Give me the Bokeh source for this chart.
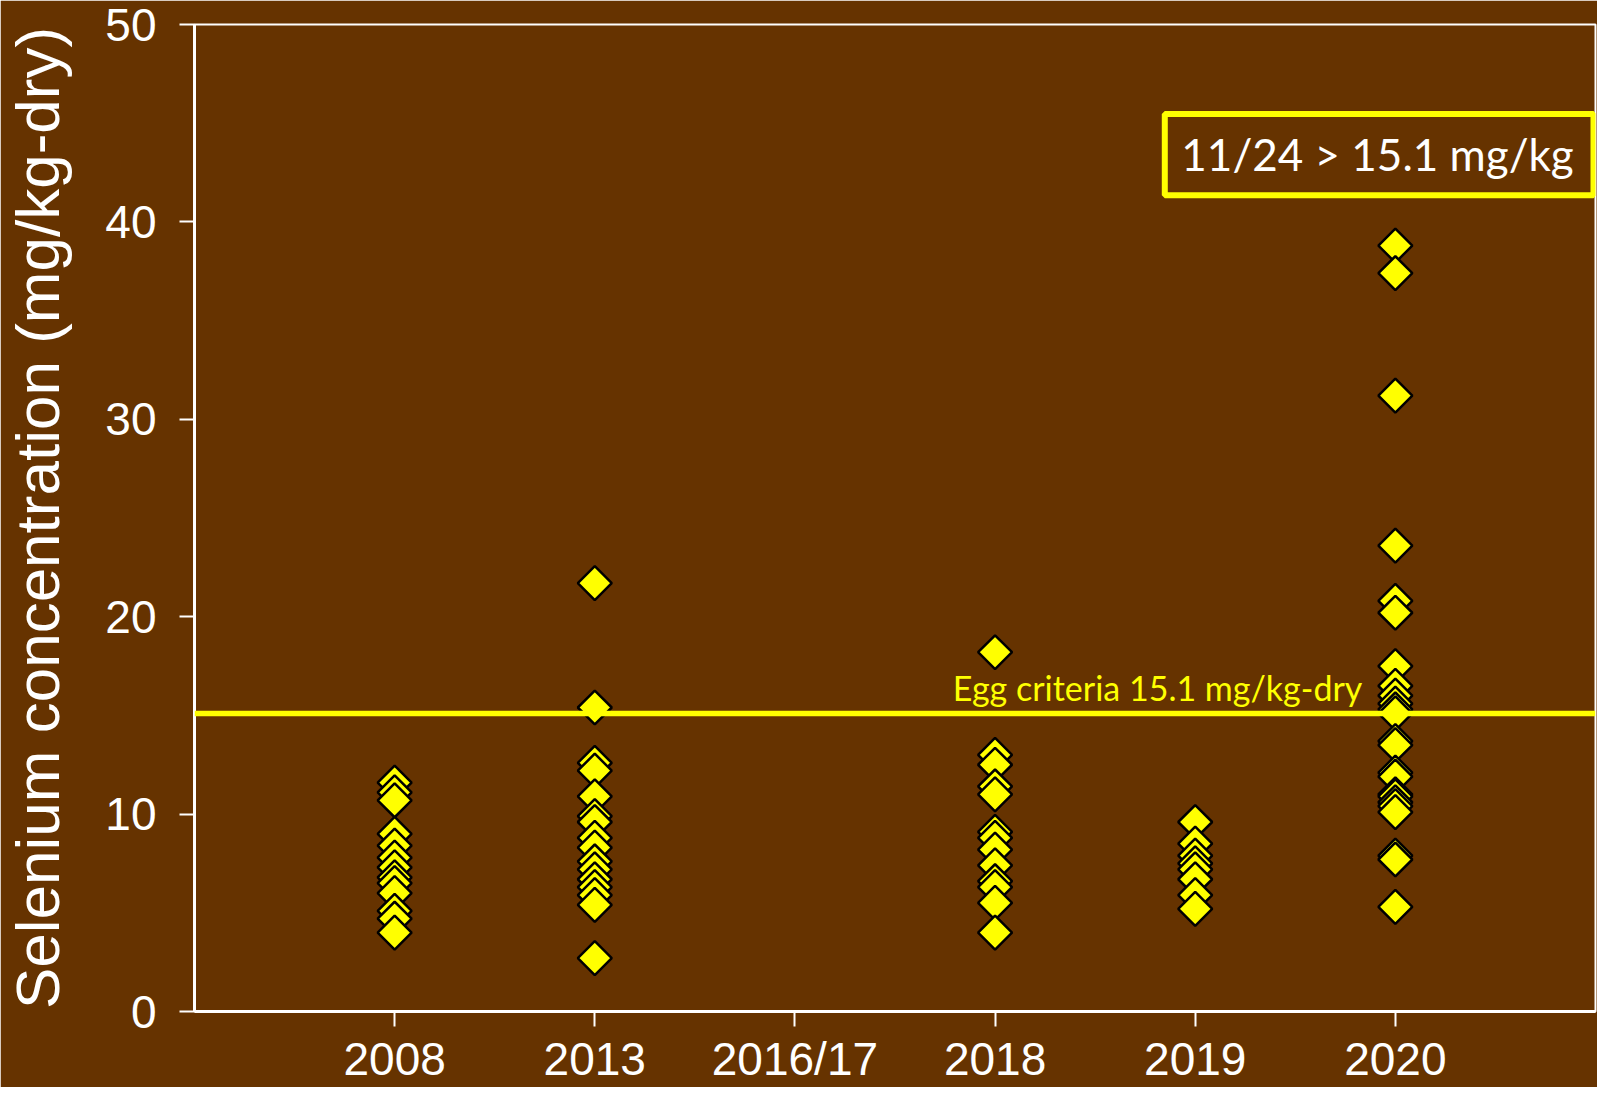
import math
from bokeh.plotting import figure
from bokeh.models import Span, Label, BoxAnnotation, FixedTicker, ColumnDataSource, Range1d
from bokeh.embed import file_html
from bokeh.resources import INLINE

# ---- data ----
categories = ["2008", "2013", "2016/17", "2018", "2019", "2020"]
se_2008 = [11.6, 11.1, 10.7, 9.0, 8.4, 7.8, 7.3, 6.8, 6.5, 6.0, 5.1, 4.7, 4.0]
se_2013 = [21.7, 15.4, 12.6, 12.2, 10.9, 9.9, 9.6, 8.8, 8.3, 7.6, 7.2, 6.7, 6.3, 5.9, 5.4, 2.7]
se_2016 = []
se_2018 = [18.2, 13.0, 12.5, 11.4, 11.0, 9.1, 8.8, 8.2, 7.4, 6.6, 6.3, 5.5, 4.0]
se_2019 = [9.6, 8.5, 7.9, 7.5, 7.2, 6.7, 5.9, 5.2]
se_2020 = [38.8, 37.4, 31.2, 23.6, 20.8, 20.2, 17.5, 16.5, 16.0, 15.6, 15.3, 15.1,
           13.7, 13.5, 12.1, 11.9, 11.0, 10.9, 10.6, 10.4, 10.1, 7.9, 7.7, 5.3]
y_ticks = [0, 10, 20, 30, 40, 50]
criteria = 15.1
criteria_label = "Egg criteria 15.1 mg/kg-dry"
box_label = "11/24 > 15.1 mg/kg"
y_title = "Selenium concentration (mg/kg-dry)"

series = [se_2008, se_2013, se_2016, se_2018, se_2019, se_2020]
xs, ys = [], []
for i, vals in enumerate(series):
    for v in vals:
        xs.append(i + 1)
        ys.append(v)
src = ColumnDataSource(dict(x=xs, y=ys))

BG = "#663300"
YEL = "#FFFF00"

p = figure(width=1597, height=1087, output_backend="svg", toolbar_location=None,
           x_range=Range1d(0, len(categories) + 1), y_range=Range1d(0, 50),
           min_border_left=193, min_border_right=2, min_border_top=24, min_border_bottom=74)
p.background_fill_color = BG
p.border_fill_color = BG
p.outline_line_color = "white"
p.outline_line_width = 2
p.grid.visible = False

# axes
p.yaxis.ticker = FixedTicker(ticks=y_ticks)
p.xaxis.ticker = FixedTicker(ticks=list(range(1, len(categories) + 1)))
p.xaxis.major_label_overrides = {i + 1: c for i, c in enumerate(categories)}
for ax in (p.xaxis, p.yaxis):
    ax.axis_line_color = "white"
    ax.axis_line_width = 3
    ax.major_tick_line_color = "white"
    ax.major_tick_line_width = 2
    ax.major_tick_out = 15
    ax.major_tick_in = 0
    ax.minor_tick_line_color = None
    ax.major_label_text_color = "white"
    ax.major_label_text_font = "Liberation Sans"
    ax.major_label_text_font_size = "46px"
p.yaxis.major_label_standoff = 23
p.xaxis.major_label_standoff = 6
p.yaxis.axis_label = y_title
p.yaxis.axis_label_text_font = "Liberation Sans"
p.yaxis.axis_label_text_font_size = "62px"
p.yaxis.axis_label_text_font_style = "normal"
p.yaxis.axis_label_text_color = "white"
p.yaxis.axis_label_standoff = 30

# criteria line
p.add_layout(Span(location=criteria, dimension="width", line_color=YEL, line_width=5.5))

# points
p.scatter("x", "y", source=src, marker="square", angle=math.pi / 4, size=24,
          fill_color=YEL, line_color="black", line_width=2.5)

# labels
p.add_layout(Label(x=3.789, y=16.4, text=criteria_label, text_color=YEL,
                   text_font="Lato", text_font_size="34px", text_baseline="alphabetic"))
p.add_layout(BoxAnnotation(left=4.848, right=6.99, bottom=41.35, top=45.47,
                           fill_color=None, fill_alpha=0, line_color=YEL, line_alpha=1.0,
                           line_width=6))
p.add_layout(Label(x=5.911, y=43.45, text=box_label, text_color="white",
                   text_font="Lato", text_font_size="44px", text_align="center",
                   text_baseline="alphabetic"))

open("out.html", "w").write(file_html(p, INLINE))
